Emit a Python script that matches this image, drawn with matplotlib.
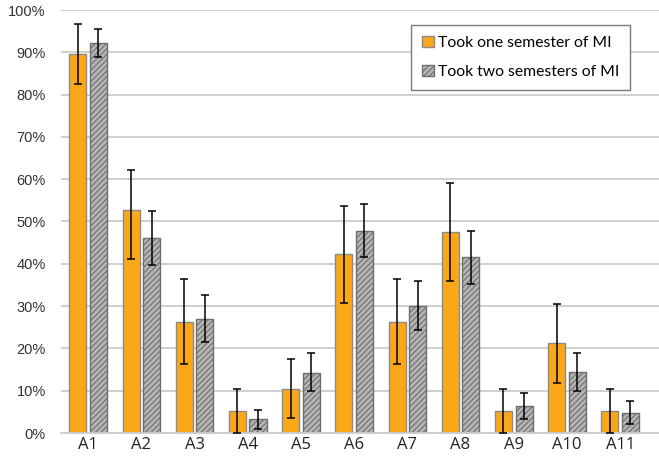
import matplotlib
matplotlib.use("Agg")
import matplotlib.pyplot as plt
import numpy as np
from matplotlib.ticker import PercentFormatter

categories = ["A1", "A2", "A3", "A4", "A5", "A6", "A7", "A8", "A9", "A10", "A11"]
one_sem = [89.7, 52.8, 26.2, 5.2, 10.5, 42.2, 26.3, 47.6, 5.3, 21.2, 5.3]
one_lo = [82.6, 41.2, 16.2, 0.0, 3.5, 30.7, 16.2, 36.0, 0.0, 11.8, 0.0]
one_hi = [96.7, 62.1, 36.5, 10.3, 17.6, 53.6, 36.5, 59.0, 10.4, 30.4, 10.4]
two_sem = [92.3, 46.2, 27.0, 3.2, 14.3, 47.8, 30.1, 41.5, 6.4, 14.4, 4.8]
two_lo = [88.9, 39.8, 21.4, 1.0, 9.9, 41.5, 24.4, 35.2, 3.3, 10.0, 2.1]
two_hi = [95.5, 52.5, 32.6, 5.4, 18.8, 54.1, 36.0, 47.7, 9.4, 18.9, 7.5]
labels = ["Took one semester of MI", "Took two semesters of MI"]

plt.rcParams['hatch.color'] = '#6e6e6e'
plt.rcParams['hatch.linewidth'] = 0.8

fig = plt.figure(figsize=(6.59, 4.61), dpi=100)
ax = fig.add_axes([61/659, 1 - 433/461, 598/659, 423/461])

x = np.arange(len(categories))
w = 0.32
off = 0.193
one = np.array(one_sem); two = np.array(two_sem)
err1 = [one - np.array(one_lo), np.array(one_hi) - one]
err2 = [two - np.array(two_lo), np.array(two_hi) - two]

ax.bar(x - off, one, w, color='#FAA819', edgecolor='#8a8a8a', linewidth=1.0,
       label=labels[0], zorder=2)
ax.bar(x + off, two, w, color='#b5b5b5', edgecolor='#6e6e6e', linewidth=1.0,
       hatch='//////', label=labels[1], zorder=2)
ax.errorbar(x - off, one, yerr=err1, fmt='none', ecolor='black', elinewidth=1.1,
            capsize=3, capthick=1.1, zorder=3)
ax.errorbar(x + off, two, yerr=err2, fmt='none', ecolor='black', elinewidth=1.1,
            capsize=3, capthick=1.1, zorder=3)

ax.set_ylim(0, 100)
ax.set_xlim(-0.51, 10.73)
ax.set_yticks(np.arange(0, 101, 10))
ax.yaxis.set_major_formatter(PercentFormatter(decimals=0))
ax.grid(axis='y', color='#cccccc', linewidth=1.3, zorder=0)
ax.set_axisbelow(True)
for s in ['top', 'right', 'left']:
    ax.spines[s].set_visible(False)
ax.spines['bottom'].set_color('#cccccc')
ax.spines['bottom'].set_linewidth(1.3)
ax.set_xticks(x)
ax.set_xticklabels(categories, fontfamily='Open Sans', fontsize=12, color='#222222')
ax.tick_params(axis='x', length=0, pad=3)
ax.tick_params(axis='y', length=0, pad=11, labelsize=10.5, labelcolor='#333333')
for t in ax.get_yticklabels():
    t.set_fontfamily('Liberation Sans')

leg = ax.legend(loc='upper left', bbox_to_anchor=(0.585, 0.965), frameon=True,
                fancybox=False, edgecolor='#7a7a7a', framealpha=1,
                prop={'family': 'Lato', 'size': 11.3}, handlelength=0.75,
                handleheight=0.75, handletextpad=0.25, labelspacing=0.95,
                borderpad=0.7, borderaxespad=0)
leg.get_frame().set_linewidth(1.0)

fig.savefig('out.png', dpi=100)
